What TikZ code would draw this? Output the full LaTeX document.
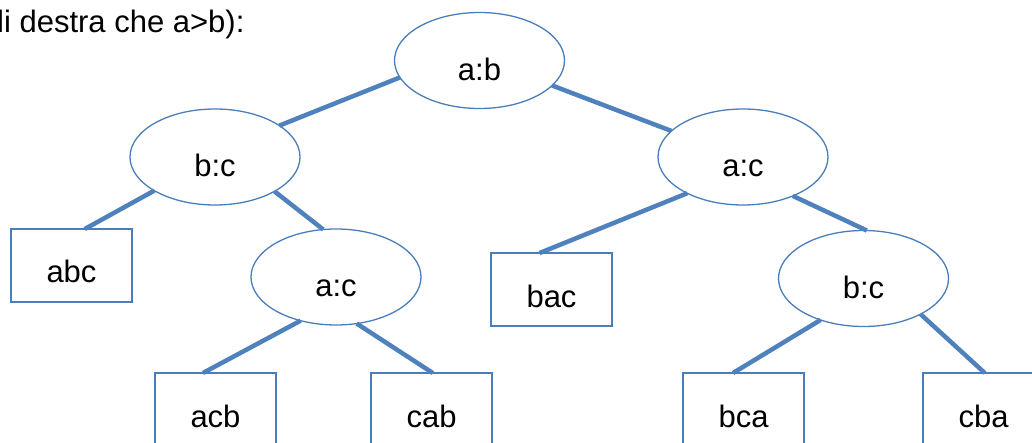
\documentclass[tikz,border=0pt]{standalone}
\usepackage{fontspec}
\setmainfont{Liberation Sans}
\usetikzlibrary{shapes.geometric}
\definecolor{edgeblue}{HTML}{4F81BD}
\definecolor{lineblue}{HTML}{4A7EBB}
\begin{document}
\begin{tikzpicture}[x=1pt,y=-1pt,
  cmp/.style={ellipse, draw=lineblue, line width=1.3pt, minimum width=170pt, minimum height=96pt,
    inner sep=0pt, outer sep=0pt, text height=40pt, text depth=0pt, font=\fontsize{31}{37}\selectfont},
  leaf/.style={rectangle, draw=lineblue, line width=1.6pt, minimum width=121pt, minimum height=73pt,
    inner sep=0pt, outer sep=0pt, text height=35pt, text depth=0pt, font=\fontsize{31}{37}\selectfont},
  conn/.style={draw=edgeblue, line width=4.5pt}]
\useasboundingbox (0,0) rectangle (1032,443);
\node[anchor=base west, inner sep=0pt, font=\fontsize{31}{37}\selectfont] (title) at (-3,33) {li destra che a>b):};
\node[cmp] (ab) at (479.5,60.5) {a:b};
\node[cmp] (bcL) at (215,157) {b:c};
\node[cmp] (acR) at (743,157) {a:c};
\node[cmp] (acL) at (336,277) {a:c};
\node[cmp] (bcR) at (863.5,278.5) {b:c};
\node[leaf] (abc) at (71.5,265.5) {abc};
\node[leaf] (bac) at (551.5,289.5) {bac};
\node[leaf] (acb) at (215.5,409.5) {acb};
\node[leaf] (cab) at (431.5,409.5) {cab};
\node[leaf] (bca) at (743.5,409.5) {bca};
\node[leaf] (cba) at (983.5,409.5) {cba};
\draw[conn] (ab.192) -- (bcL.26);
\draw[conn] (ab.341) -- (acR.160);
\draw[conn] (bcL.209) -- (abc.70);
\draw[conn] (bcL.330) -- (acL.105);
\draw[conn] (acL.231) -- (acb.109);
\draw[conn] (acL.294) -- (cab.88);
\draw[conn] (acR.213) -- (bac.108);
\draw[conn] (acR.322) -- (bcR.86);
\draw[conn] (bcR.224) -- (bca.106);
\draw[conn] (bcR.328) -- (cba.88);
\end{tikzpicture}
\end{document}
